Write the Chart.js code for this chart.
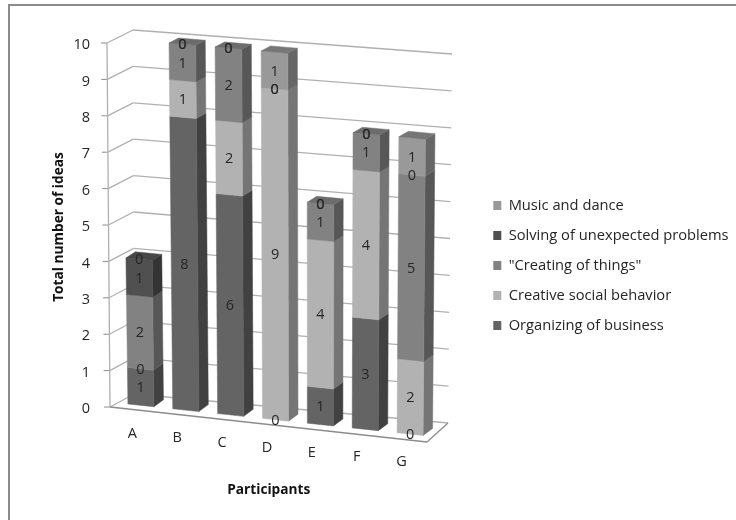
<!DOCTYPE html>
<html>
<head>
<meta charset="utf-8">
<style>
  html, body { margin: 0; padding: 0; background: #fff; }
  canvas { display: block; }
</style>
<script src="https://cdn.jsdelivr.net/npm/chart.js@4"></script>
</head>
<body>
<canvas id="chart" width="736" height="520"></canvas>
<script>
const participants = ['A', 'B', 'C', 'D', 'E', 'F', 'G']
const organizing = [1, 8, 6, 0, 1, 3, 0]
const socialBehavior = [0, 1, 2, 9, 4, 4, 2]
const creatingThings = [2, 1, 2, 0, 1, 1, 5]
const solvingProblems = [1, 0, 0, 0, 0, 0, 0]
const musicDance = [0, 0, 0, 1, 0, 0, 1]

const fontName = 'Open Sans'
const textColor = '#262626'
const wallColor = '#b0b0b0'
const floorColor = '#8c8c8c'

// front, side, top colours of each series
const shades = [
    ['#646464', '#414141', '#565656'],
    ['#b2b2b2', '#757575', '#989898'],
    ['#828282', '#575757', '#6c6c6c'],
    ['#505050', '#343434', '#474747'],
    ['#999999', '#666666', '#767676']
]

const lerp = (a, b, t) => a + (b - a) * t

// where the flat plot rectangle lands on the tilted plane of the bars
const barPlane = {
    bl: [118.5, 403], br: [432.5, 436.5],
    tl: [113.3, 38.2], tr: [435.7, 65.9]
}

const warp = (chart, px, py) => {
    const area = chart.chartArea
    const u = (px - area.left) / (area.right - area.left)
    const v = (area.bottom - py) / (area.bottom - area.top)
    const p = barPlane
    return [
        lerp(lerp(p.bl[0], p.br[0], u), lerp(p.tl[0], p.tr[0], u), v),
        lerp(lerp(p.bl[1], p.br[1], u), lerp(p.tl[1], p.tr[1], u), v)
    ]
}

const shape = (ctx, points, color) => {
    ctx.beginPath()
    points.forEach((p, i) => i ? ctx.lineTo(p[0], p[1]) : ctx.moveTo(p[0], p[1]))
    ctx.closePath()
    ctx.fillStyle = color
    ctx.fill()
    ctx.strokeStyle = color
    ctx.lineWidth = 0.5
    ctx.stroke()
}

const stroke = (ctx, a, b, color, width) => {
    ctx.beginPath()
    ctx.moveTo(a[0], a[1])
    ctx.lineTo(b[0], b[1])
    ctx.strokeStyle = color
    ctx.lineWidth = width
    ctx.stroke()
}

const depthPoint = (p, value) => [p[0] + 9.5, p[1] + lerp(-7, -5, value / 10)]

const scene = {
    id: 'scene',
    afterLayout(chart) {
        const legend = chart.legend
        legend.left = 478
        legend.right = 736
        legend.top -= 8
        legend.bottom -= 8
    },
    beforeDraw(chart) {
        const ctx = chart.ctx
        const yScale = chart.scales.y
        ctx.save()
        ctx.fillStyle = '#fff'
        ctx.fillRect(0, 0, chart.width, chart.height)
        // frame of the picture, top and left only
        stroke(ctx, [9, 5], [736, 5], '#8c8c8c', 2)
        stroke(ctx, [9, 4], [9, 520], '#8c8c8c', 2)

        yScale.ticks.forEach(t => {
            const v = t.value / 10
            const front = [lerp(110, 107, v), lerp(407, 43, v)]
            const corner = [lerp(134, 133, v), lerp(394, 30, v)]
            const right = [lerp(448, 452, v), lerp(423, 54, v)]
            if (t.value > 0) {
                stroke(ctx, front, corner, wallColor, 1.3)
                stroke(ctx, corner, right, wallColor, 1.3)
            }
            stroke(ctx, [front[0] - 6, front[1]], front, floorColor, 1)
        })
        // floor and left edge
        stroke(ctx, [107, 43], [110, 407], wallColor, 1.3)
        stroke(ctx, [110, 407], [134, 394], wallColor, 1.3)
        stroke(ctx, [134, 394], [448, 423], wallColor, 1.3)
        stroke(ctx, [448, 423], [427, 442], floorColor, 1.3)
        stroke(ctx, [110, 407], [427, 442], floorColor, 1.3)
        ctx.restore()
    },
    beforeDatasetsDraw(chart) {
        const ctx = chart.ctx
        const yScale = chart.scales.y
        ctx.save()
        participants.forEach((name, i) => {
            let topSeries = 0
            chart.data.datasets.forEach((ds, s) => { if (ds.data[i] > 0) topSeries = s })

            chart.data.datasets.forEach((ds, s) => {
                if (ds.data[i] <= 0) return
                const bar = chart.getDatasetMeta(s).data[i]
                const half = bar.width / 2
                const high = yScale.getValueForPixel(bar.y)
                const low = yScale.getValueForPixel(bar.base)
                const fl = warp(chart, bar.x - half, bar.base)
                const fr = warp(chart, bar.x + half, bar.base)
                const tl = warp(chart, bar.x - half, bar.y)
                const tr = warp(chart, bar.x + half, bar.y)
                shape(ctx, [fr, tr, depthPoint(tr, high), depthPoint(fr, low)], shades[s][1])
                shape(ctx, [fl, fr, tr, tl], shades[s][0])
                if (s === topSeries) {
                    shape(ctx, [tl, tr, depthPoint(tr, high), depthPoint(tl, high)], shades[s][2])
                }
            })
        })
        ctx.restore()
        return false
    },
    afterDraw(chart) {
        const ctx = chart.ctx
        ctx.save()
        ctx.font = `14.5px ${fontName}`
        ctx.fillStyle = textColor
        ctx.textAlign = 'center'
        ctx.textBaseline = 'middle'
        chart.data.datasets.forEach((ds, s) => {
            chart.getDatasetMeta(s).data.forEach((bar, i) => {
                const p = warp(chart, bar.x, (bar.y + bar.base) / 2)
                ctx.fillText(ds.data[i], p[0], p[1] + 1)
            })
        })
        // category labels follow the tilted floor
        const xScale = chart.scales.x
        participants.forEach((name, i) => {
            const p = warp(chart, xScale.getPixelForValue(i), chart.chartArea.bottom)
            ctx.fillText(name, p[0] - 8.5, p[1] + 28)
        })
        ctx.restore()
    }
}

const seriesNames = ['Organizing of business', 'Creative social behavior', '"Creating of things"',
    'Solving of unexpected problems', 'Music and dance']
const seriesValues = [organizing, socialBehavior, creatingThings, solvingProblems, musicDance]

new Chart(document.getElementById('chart'), {
    type: 'bar',
    data: {
        labels: participants,
        datasets: seriesNames.map((label, s) => ({
            label,
            data: seriesValues[s],
            backgroundColor: shades[s][0],
            borderWidth: 0
        }))
    },
    options: {
        responsive: false,
        animation: false,
        devicePixelRatio: 1,
        layout: { padding: { left: 51, top: 45, right: 179, bottom: 18 } },
        datasets: { bar: { categoryPercentage: 1, barPercentage: 0.58 } },
        scales: {
            x: {
                stacked: true,
                grid: { display: false },
                border: { display: false },
                ticks: { display: false },
                afterFit: s => { s.height = 93 },
                title: {
                    display: true,
                    text: 'Participants',
                    color: '#111',
                    font: { family: fontName, size: 13.7, weight: 'bold' }
                }
            },
            y: {
                stacked: true,
                min: 0,
                max: 10,
                grid: { display: false },
                border: { display: false },
                ticks: {
                    stepSize: 1,
                    padding: 9,
                    color: textColor,
                    font: { family: fontName, size: 14.5 }
                },
                afterFit: s => { s.width = 56 },
                title: {
                    display: true,
                    text: 'Total number of ideas',
                    color: '#111',
                    padding: 0,
                    font: { family: fontName, size: 13.7, weight: 'bold' }
                }
            }
        },
        plugins: {
            tooltip: { enabled: false },
            legend: {
                position: 'right',
                reverse: true,
                labels: {
                    boxWidth: 8,
                    boxHeight: 9,
                    padding: 15.3,
                    color: textColor,
                    font: { family: fontName, size: 14.7 }
                }
            }
        }
    },
    plugins: [scene]
})
</script>
</body>
</html>
